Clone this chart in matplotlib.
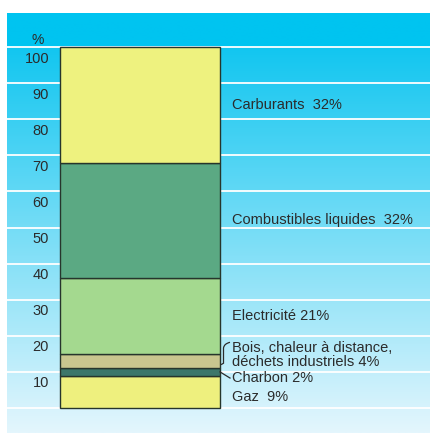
import numpy as np
import matplotlib.pyplot as plt
from matplotlib.path import Path
from matplotlib.patches import PathPatch

# energy consumption shares (%), bottom to top
categories = ['Gaz', 'Charbon', 'Bois, chaleur à distance, déchets industriels',
              'Electricité', 'Combustibles liquides', 'Carburants']
shares = [9, 2, 4, 21, 32, 32]
labels = ['Gaz  9%', 'Charbon 2%', 'Bois, chaleur à distance,\ndéchets industriels 4%',
          'Electricité 21%', 'Combustibles liquides  32%', 'Carburants  32%']
label_y = [3.0, 8.3, 14.8, 25.5, 52, 84]
colors = ['#eef07e', '#3c776a', '#c9c68f', '#a4d98f', '#5ba983', '#eef27f']
ticks = [10, 20, 30, 40, 50, 60, 70, 80, 90, 100]

plt.rcParams['font.family'] = ['Liberation Sans', 'DejaVu Sans']
txt_col = '#2b2b2b'

# pixel layout: 0% at 408 px, 100% at 47 px from the top
px = 3.61
ybot = -(433 - 408) / px
ytop = 408 / px
ypanel = (408 - 13) / px

fig = plt.figure(figsize=(4.3, 4.33), dpi=100)
ax = fig.add_axes([0, 0, 1, 1])
ax.set_xlim(0, 430)
ax.set_ylim(ybot, ytop)
ax.axis('off')

# background gradient (cyan at top fading to pale blue)
yy = np.linspace(ypanel, ybot, 400)
top = np.array([0, 196, 240]) / 255
hi = np.array([18, 198, 240]) / 255
lo = np.array([228, 246, 253]) / 255
grad = np.zeros((len(yy), 1, 3))
for i, y in enumerate(yy):
    if y >= 100:
        grad[i, 0] = top
    else:
        f = (100 - y) / (100 - ybot)
        grad[i, 0] = hi + (lo - hi) * f
ax.imshow(grad, extent=[7, 430, ybot, ypanel], aspect='auto', zorder=0,
          interpolation='bilinear')

# white band separators
ax.hlines([0] + ticks, 7, 430, colors='white', lw=1.3, zorder=1)

# tick labels in the left column
for t in ticks:
    ax.text(49, t - 3.2, str(t), ha='right', va='center', fontsize=10.5, color=txt_col)
ax.text(38, 101.9, '%', ha='center', va='center', fontsize=10, color=txt_col)

# stacked bar
bottoms = np.cumsum([0] + shares[:-1])
ax.bar(140, shares, bottom=bottoms, width=160, color=colors,
       edgecolor='#26352c', lw=1.0, zorder=3)

# labels
for lab, y in zip(labels, label_y):
    ax.text(232, y, lab, ha='left', va='center', fontsize=10.5, color=txt_col,
            linespacing=1.0, zorder=4)

# bracket for "Bois..." and leader for "Charbon"
b0 = bottoms[2] + 1
verts = [(221, b0), (223.5, b0 + 0.4), (223.5, 16.6), (224, 17.8), (230, 18.2)]
codes = [Path.MOVETO, Path.LINETO, Path.LINETO, Path.CURVE3, Path.CURVE3]
ax.add_patch(PathPatch(Path(verts, codes), fill=False, color=txt_col, lw=0.9, zorder=4))
cmid = bottoms[1] + shares[1] / 2
ax.plot([220, 230], [cmid, label_y[1]], color=txt_col, lw=0.9, zorder=4)

fig.savefig('out.png', dpi=100)
